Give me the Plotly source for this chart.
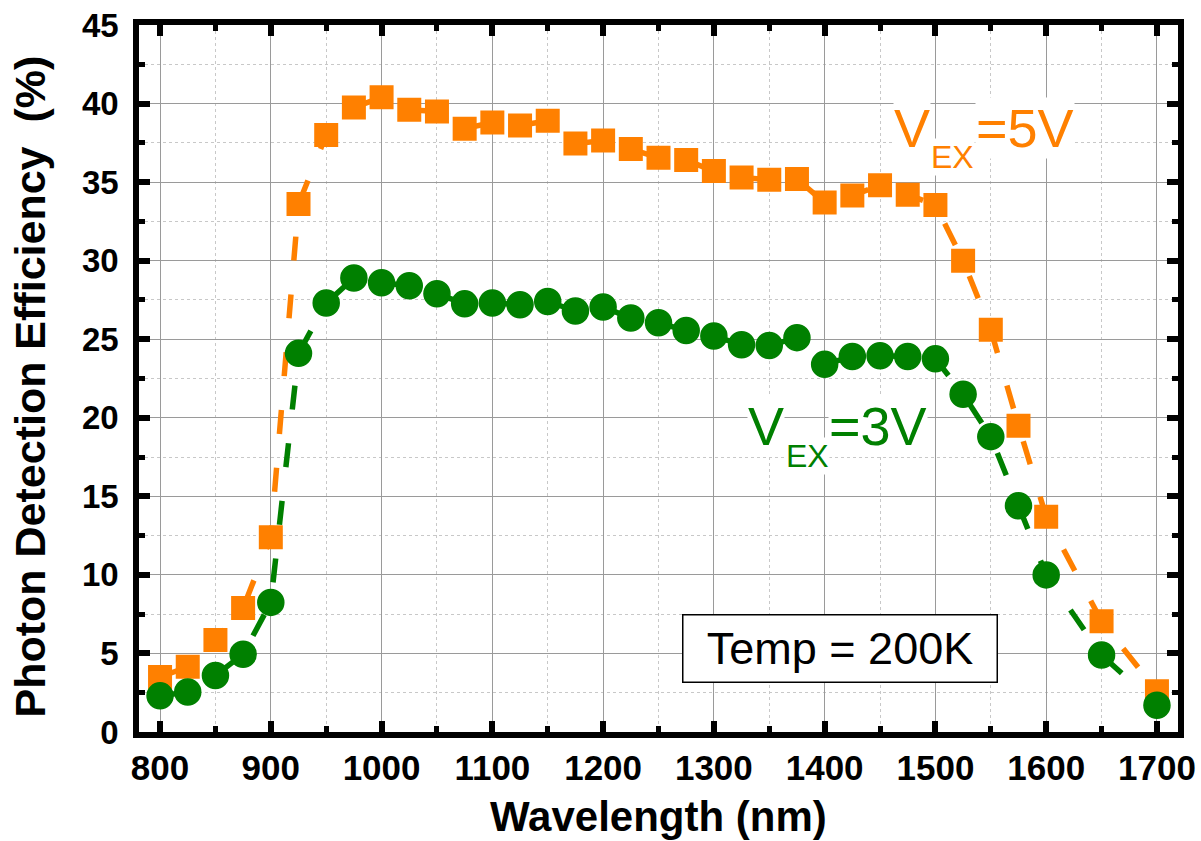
import plotly.graph_objects as go

wavelength = [800, 825, 850, 875, 900, 925, 950, 975, 1000, 1025, 1050, 1075, 1100, 1125,
              1150, 1175, 1200, 1225, 1250, 1275, 1300, 1325, 1350, 1375, 1400, 1425,
              1450, 1475, 1500, 1525, 1550, 1575, 1600, 1650, 1700]

pde_5v = [3.5, 4.15, 5.85, 7.9, 12.4, 33.6, 38.0, 39.75, 40.4, 39.6, 39.5, 38.4, 38.8, 38.6,
          38.9, 37.45, 37.65, 37.1, 36.55, 36.4, 35.7, 35.3, 35.15, 35.2, 33.7, 34.15,
          34.8, 34.2, 33.55, 30.0, 25.6, 19.5, 13.7, 7.05, 2.6]

pde_3v = [2.3, 2.55, 3.6, 4.95, 8.25, 24.1, 27.3, 28.9, 28.6, 28.4, 27.9, 27.25, 27.3, 27.2,
          27.4, 26.8, 27.05, 26.35, 26.05, 25.55, 25.2, 24.65, 24.6, 25.1, 23.4, 23.9,
          23.95, 23.9, 23.75, 21.5, 18.8, 14.4, 10.0, 4.9, 1.7]

x_ticks = [800, 900, 1000, 1100, 1200, 1300, 1400, 1500, 1600, 1700]
y_ticks = [0, 5, 10, 15, 20, 25, 30, 35, 40, 45]

ORANGE = "#FF8000"
GREEN = "#008000"
FONT = "Arial, Liberation Sans, sans-serif"
DASH = "24px,34px"

fig = go.Figure()
fig.add_trace(go.Scatter(
    x=wavelength, y=pde_5v, mode="lines+markers",
    line=dict(color=ORANGE, width=5.5, dash=DASH),
    marker=dict(symbol="square", size=21, color=ORANGE, line=dict(color=ORANGE, width=3)),
    showlegend=False))
fig.add_trace(go.Scatter(
    x=wavelength, y=pde_3v, mode="lines+markers",
    line=dict(color=GREEN, width=5.5, dash=DASH),
    marker=dict(symbol="circle", size=26, color=GREEN, line=dict(color=GREEN, width=1.5)),
    showlegend=False))

axis_common = dict(
    showline=True, linecolor="black", linewidth=5.5, mirror="ticks",
    ticks="inside", ticklen=11, tickwidth=6, tickcolor="black",
    showgrid=True, gridcolor="#9a9a9a", gridwidth=1.3,
    zeroline=False, automargin=False,
)

fig.update_xaxes(
    range=[781, 1719], tickvals=x_ticks, ticktext=[str(v) for v in x_ticks],
    tickfont=dict(family=FONT, size=35, color="black", weight="bold"),
    minor=dict(dtick=50, tick0=800, ticks="inside", ticklen=6, tickwidth=5, tickcolor="black",
               showgrid=True, gridcolor="#c8c8c8", griddash="dot", gridwidth=1.2),
    ticklabelstandoff=0,
    **axis_common)
fig.update_yaxes(
    range=[0, 45], tickvals=y_ticks, ticktext=[str(v) for v in y_ticks],
    tickfont=dict(family=FONT, size=33, color="black", weight="bold"),
    minor=dict(dtick=2.5, tick0=0, ticks="inside", ticklen=6, tickwidth=5, tickcolor="black",
               showgrid=True, gridcolor="#c8c8c8", griddash="dot", gridwidth=1.2),
    ticklabelstandoff=8,
    **axis_common)

# axis titles
fig.add_annotation(x=0.5, y=0, xref="paper", yref="paper", yshift=-84, text="Wavelength (nm)",
                   showarrow=False, xanchor="center", yanchor="middle",
                   font=dict(family=FONT, size=42, color="black", weight="bold"))
fig.add_annotation(x=0, y=0.5, xref="paper", yref="paper", xshift=-110, yshift=-8, textangle=-90,
                   text="Photon Detection Efficiency\u00a0 (%)",
                   showarrow=False, xanchor="center", yanchor="middle",
                   font=dict(family=FONT, size=43, color="black", weight="bold"))

def label(parts, color):
    for txt, x, y, size in parts:
        fig.add_annotation(x=x, y=y, xref="x", yref="y", text=txt, showarrow=False,
                           xanchor="left", yanchor="middle", bgcolor="white", borderpad=0,
                           font=dict(family=FONT, size=size, color=color))

label([("V", 1329.9, 19.46, 54), ("EX", 1364.2, 17.55, 32), ("=3V", 1403.0, 19.46, 54)], GREEN)
label([("V", 1461.7, 38.43, 54), ("EX", 1495.1, 36.58, 32), ("=5V", 1535.7, 38.43, 54)], ORANGE)

fig.add_annotation(x=1413.9, y=5.3, xref="x", yref="y", text="Temp = 200K", showarrow=False,
                   xanchor="center", yanchor="middle", bgcolor="white",
                   bordercolor="black", borderwidth=1.5, borderpad=0, width=313, height=66,
                   font=dict(family=FONT, size=45, color="black"))

fig.update_layout(
    width=1201, height=841,
    margin=dict(l=139, r=23, t=25, b=109),
    paper_bgcolor="white", plot_bgcolor="white",
    font=dict(family=FONT),
)

fig.write_html("out.html")
